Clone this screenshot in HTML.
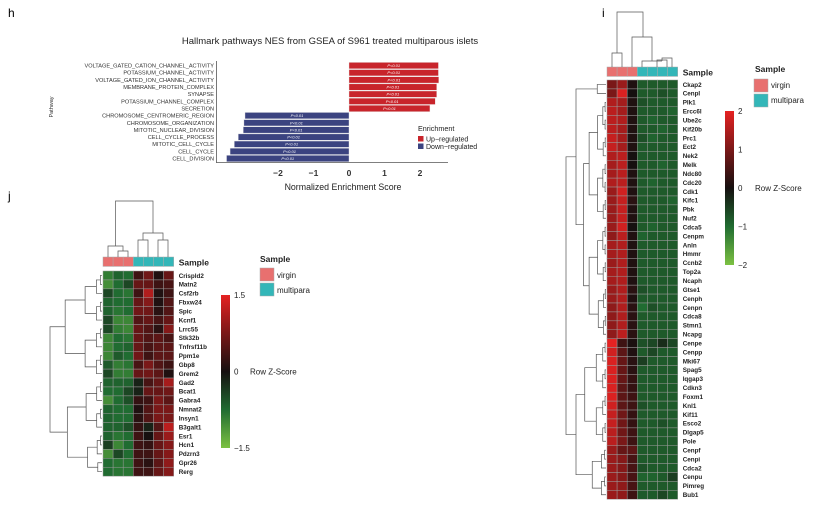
<!DOCTYPE html>
<html><head><meta charset="utf-8"><style>
body{margin:0;background:#fff;}
svg{display:block;font-family:"Liberation Sans",Arial,sans-serif;}
</style></head><body>
<svg id="fig" width="831" height="513" viewBox="0 0 831 513" xmlns="http://www.w3.org/2000/svg">
<text x="8" y="17" font-size="12">h</text>
<text x="8" y="200" font-size="12">j</text>
<text x="602" y="17" font-size="12">i</text>
<g id="h"></g>
<g id="j"></g>
<g id="i"></g>
</svg>
<script>
const NS="http://www.w3.org/2000/svg";
// ---- panel h data ----
const pathways=["VOLTAGE_GATED_CATION_CHANNEL_ACTIVITY","POTASSIUM_CHANNEL_ACTIVITY","VOLTAGE_GATED_ION_CHANNEL_ACTIVITY","MEMBRANE_PROTEIN_COMPLEX","SYNAPSE","POTASSIUM_CHANNEL_COMPLEX","SECRETION","CHROMOSOME_CENTROMERIC_REGION","CHROMOSOME_ORGANIZATION","MITOTIC_NUCLEAR_DIVISION","CELL_CYCLE_PROCESS","MITOTIC_CELL_CYCLE","CELL_CYCLE","CELL_DIVISION"];
const nesValues=[2.52,2.52,2.53,2.47,2.47,2.43,2.28,-2.93,-2.96,-2.98,-3.12,-3.23,-3.35,-3.45];
const nesTicks=[-2,-1,0,1,2];
// ---- panel j data ----
const genesJ=["Crispld2","Matn2","Csf2rb","Fbxw24","Spic","Kcnf1","Lrrc55","Stk32b","Tnfrsf11b","Ppm1e","Gbp8","Grem2","Gad2","Bcat1","Gabra4","Nmnat2","Insyn1","B3galt1","Esr1","Hcn1","Pdzrn3","Gpr26","Rerg"];
const samplesJ=["virgin","virgin","virgin","multipara","multipara","multipara","multipara"];
const zJ=[
[-1.2,-0.9,-1.0,0.4,0.9,0.1,0.8],[-1.4,-1.0,-0.6,0.8,0.8,0.4,0.5],[-0.6,-1.0,-1.1,0.4,1.5,0.1,0.4],
[-0.9,-1.0,-1.0,0.8,1.1,0.1,0.6],[-0.9,-1.1,-1.0,0.9,0.9,0.2,0.6],[-0.6,-1.3,-1.3,0.6,0.8,0.5,0.8],
[-0.6,-1.2,-1.3,0.8,0.6,0.2,1.1],[-1.3,-1.0,-1.1,0.8,0.6,0.7,0.5],[-1.3,-1.0,-0.9,0.8,0.5,0.7,0.7],
[-1.3,-0.8,-1.0,0.9,0.4,0.7,0.7],[-0.8,-1.2,-1.1,0.5,1.0,0.6,0.4],[-0.6,-1.2,-1.2,0.8,0.9,0.7,0.1],
[-0.9,-0.9,-0.9,-0.2,0.5,0.8,1.4],[-1.0,-1.0,-0.6,-0.2,0.8,0.8,0.9],[-1.4,-1.0,-0.7,0.3,0.4,1.0,0.7],
[-0.9,-1.0,-1.0,0.1,0.6,1.0,1.0],[-0.9,-1.0,-1.0,0.2,0.6,1.0,1.0],[-0.9,-0.9,-0.7,0.3,-0.2,0.6,1.6],
[-0.9,-1.1,-1.0,0.4,0.0,0.8,1.3],[-0.5,-1.3,-1.0,0.4,0.3,0.8,1.1],[-1.4,-0.6,-1.0,0.4,0.4,0.8,1.1],
[-1.0,-1.1,-1.1,0.4,0.2,0.7,1.2],[-1.0,-1.1,-1.1,0.4,0.4,0.8,1.1]];
const scaleTicksJ=[1.5,0,-1.5];
// ---- panel i data ----
const genesI=["Ckap2","Cenpl","Plk1","Ercc6l","Ube2c","Kif20b","Prc1","Ect2","Nek2","Melk","Ndc80","Cdc20","Cdk1","Kifc1","Pbk","Nuf2","Cdca5","Cenpm","Anln","Hmmr","Ccnb2","Top2a","Ncaph","Gtse1","Cenph","Cenpn","Cdca8","Stmn1","Ncapg","Cenpe","Cenpp","Mki67","Spag5","Iqgap3","Cdkn3","Foxm1","Knl1","Kif11","Esco2","Dlgap5","Pole","Cenpf","Cenpi","Cdca2","Cenpu","Pimreg","Bub1"];
const samplesI=["virgin","virgin","virgin","multipara","multipara","multipara","multipara"];
const zI=[
[1.0,1.3,0.1,-0.8,-0.8,-0.8,-0.8],[1.0,1.9,0.0,-0.8,-0.8,-0.7,-0.8],[1.5,1.4,0.1,-0.7,-0.8,-0.8,-0.8],
[1.6,1.4,0.1,-0.8,-0.8,-0.8,-0.9],[1.6,1.5,0.1,-0.8,-0.9,-0.8,-0.8],[1.6,1.4,0.1,-0.8,-0.8,-0.9,-0.8],
[1.7,1.4,0.1,-0.7,-0.9,-0.8,-0.8],[1.7,1.4,0.1,-0.8,-0.8,-0.8,-0.8],[1.5,1.6,0.0,-0.8,-0.8,-0.8,-0.8],
[1.4,1.6,0.0,-0.8,-0.8,-0.9,-0.8],[1.4,1.6,0.1,-0.8,-0.8,-0.8,-0.8],[1.5,1.6,0.1,-0.8,-0.9,-0.8,-0.8],
[1.3,1.8,0.1,-0.8,-0.8,-0.8,-0.8],[1.3,1.7,0.2,-0.8,-0.8,-0.8,-0.9],[1.3,1.7,0.1,-0.8,-0.8,-0.8,-0.8],
[1.3,1.7,0.1,-0.8,-0.8,-0.8,-0.8],[1.3,1.8,0.0,-0.8,-0.9,-0.8,-0.8],[1.2,1.6,0.1,-0.9,-0.8,-0.8,-0.8],
[1.4,1.5,0.1,-0.8,-0.8,-0.8,-0.8],[1.4,1.5,0.1,-0.8,-0.8,-0.8,-0.8],[1.3,1.5,0.1,-0.8,-0.8,-0.8,-0.8],
[1.4,1.5,0.1,-0.8,-0.8,-0.8,-0.8],[1.4,1.5,0.1,-0.8,-0.8,-0.8,-0.8],[1.3,1.5,0.2,-0.7,-0.8,-0.8,-0.8],
[1.3,1.5,0.1,-0.8,-0.8,-0.8,-0.8],[1.2,1.5,0.2,-1.0,-0.7,-0.8,-0.8],[1.2,1.5,0.2,-0.8,-0.8,-0.8,-0.8],
[1.2,1.5,0.2,-0.8,-0.8,-0.8,-0.8],[1.2,1.6,0.2,-0.8,-0.8,-0.8,-0.8],
[2.0,0.4,0.05,-0.7,-0.6,-0.3,-0.6],[1.8,0.7,0.1,-0.8,-0.6,-0.8,-0.8],[1.9,0.8,0.2,-0.5,-0.8,-0.8,-0.8],
[1.9,0.8,0.2,-0.8,-0.8,-0.8,-0.8],[1.9,0.8,0.3,-0.8,-0.8,-0.8,-0.8],[1.9,0.7,0.3,-0.8,-0.8,-0.8,-0.8],
[1.9,0.7,0.4,-0.8,-0.8,-0.8,-0.8],[1.8,0.7,0.4,-0.7,-0.8,-0.8,-0.8],[1.7,0.9,0.3,-0.8,-0.8,-0.8,-0.8],
[1.7,0.9,0.3,-0.8,-0.8,-0.7,-0.8],[1.6,0.9,0.4,-0.8,-0.8,-0.8,-0.8],[1.6,1.0,0.4,-0.8,-0.8,-0.8,-0.8],
[1.3,0.8,0.7,-0.8,-0.8,-0.8,-0.8],[1.3,1.1,0.5,-0.8,-0.8,-0.8,-0.8],[1.3,1.1,0.5,-0.7,-0.8,-0.8,-0.8],
[1.3,1.1,0.5,-0.9,-0.9,-0.8,-0.5],[1.3,1.2,0.5,-0.8,-0.8,-0.8,-0.8],[1.3,1.2,0.4,-0.8,-0.8,-0.6,-0.8]];
const scaleTicksI=[2,1,0,-1,-2];

function el(tag,attrs,parent,txt){const e=document.createElementNS(NS,tag);for(const k in attrs)e.setAttribute(k,attrs[k]);if(txt!==undefined)e.textContent=txt;parent.appendChild(e);return e;}
function hex(h){return [1,3,5].map(i=>parseInt(h.substr(i,2),16));}
const stops=["#7cc142","#206c31","#161010","#7a1818","#e52222"].map(hex);
function colorOf(v,max){let t=(v/max+1)*2;t=Math.max(0,Math.min(4,t));const i=Math.min(3,Math.floor(t)),f=t-i;const a=stops[i],b=stops[i+1];return "rgb("+a.map((c,k)=>Math.round(c+(b[k]-c)*f)).join(",")+")";}
const sampleCol={virgin:"#e8706f",multipara:"#33b6b8"};

function colorbar(g,x,y,h,max,ticks,titleX,id){
 const gradId="grad"+id;
 const defs=el("defs",{},g);
 const lg=el("linearGradient",{id:gradId,x1:"0",y1:"0",x2:"0",y2:"1"},defs);
 [max,max/2,0,-max/2,-max].forEach((v,k)=>el("stop",{offset:(k*25)+"%","stop-color":colorOf(v,max)},lg));
 el("rect",{x:x,y:y,width:9,height:h,fill:`url(#${gradId})`,},g);
 ticks.forEach(t=>{
  const ty=y+(max-t)/(2*max)*h;
  const k=el("text",{x:x+13,y:ty+3,"font-size":"8",fill:"#222"},g,t<0?"\u2212"+(-t):String(t));
  
  
 });
 el("text",{x:titleX,y:y+h/2+3,"font-size":"8",fill:"#222",},g,"Row Z-Score");
}

// ---------- panel h ----------
(function(){
const g=document.getElementById("h");
const x0=349,unit=35.5,yTop=62,bh=7.15;
const xs=v=>x0+v*unit, ys=i=>yTop+i*bh;
el("text",{x:330,y:44,"font-size":"9.5","text-anchor":"middle",fill:"#222",},g,"Hallmark pathways NES from GSEA of S961 treated multiparous islets");
pathways.forEach((p,i)=>{
 const v=nesValues[i];
 const r=el("rect",{x:Math.min(xs(0),xs(v)),y:ys(i)+0.4,width:Math.abs(xs(v)-xs(0)),height:bh-0.8,fill:v>0?"#c8242b":"#3b4380",stroke:"#e8e8e8","stroke-width":"0.4"},g);
 
 
 const t=el("text",{x:(xs(0)+xs(v))/2,y:ys(i)+bh/2+1.5,"font-size":"4","text-anchor":"middle",fill:"#fff","font-style":"italic"},g,"P<0.01");
 
 
 const l=el("text",{x:214,y:ys(i)+bh/2+2,"font-size":"5.6","text-anchor":"end",fill:"#333"},g,p);
 
 
});
el("line",{x1:216.5,y1:61,x2:216.5,y2:163,stroke:"#555","stroke-width":"0.8",},g);
el("line",{x1:216.5,y1:162.5,x2:448,y2:162.5,stroke:"#555","stroke-width":"0.8",},g);
nesTicks.forEach(t=>{
 const k=el("text",{x:xs(t),y:176,"font-size":"8.5","text-anchor":"middle",fill:"#333","font-weight":"bold"},g,t<0?"\u2212"+(-t):String(t));
 
 
});
el("text",{x:343,y:190,"font-size":"8.8","text-anchor":"middle",fill:"#222",},g,"Normalized Enrichment Score");
el("text",{x:0,y:0,"font-size":"5.5","text-anchor":"middle",fill:"#333",transform:"translate(53,107) rotate(-90)",},g,"Pathway");
el("text",{x:418,y:131,"font-size":"7.2",fill:"#222",},g,"Enrichment");
el("rect",{x:418,y:136,width:5.5,height:5.5,fill:"#c8242b",},g);
el("text",{x:426,y:141.5,"font-size":"7",fill:"#222",},g,"Up\u2212regulated");
el("rect",{x:418,y:143.5,width:5.5,height:5.5,fill:"#3b4380",},g);
el("text",{x:426,y:149,"font-size":"7",fill:"#222",},g,"Down\u2212regulated");
})();

// ---------- heatmap helper ----------
function heatmap(g,cfg){
 const {x0,y0,cw,rh,genes,z,samples,max,splits,rootX,colTree,barTop}=cfg;
 const xc=c=>x0+c*cw, yr=r=>y0+r*rh;
 samples.forEach((s,c)=>{
  const r=el("rect",{x:xc(c),y:barTop,width:cw,height:rh+0.5,fill:sampleCol[s],stroke:"#aaa","stroke-width":"0.5"},g);
  
  
 });
 el("text",{x:xc(7)+5,y:barTop+rh-0.5,"font-size":"8.5","font-weight":"bold",fill:"#222",},g,"Sample");
 z.forEach((row,r)=>{
  row.forEach((v,c)=>{
   const cell=el("rect",{x:xc(c),y:yr(r),width:cw,height:rh,fill:colorOf(v,max),stroke:"#9a9a9a","stroke-width":"0.5"},g);
   
   
  });
  const t=el("text",{x:xc(7)+5,y:yr(r)+rh/2+2.3,"font-size":"6.3","font-weight":"bold",fill:"#222"},g,genes[r]);
  
  
 });
 const leafX=x0-1;
 function build(lo,hi,xj){
  if(lo>=hi)return {y:yr(lo)+rh/2,x:leafX};
  const key=lo+"-"+hi;
  let m=splits[key]!==undefined?splits[key]:Math.floor((lo+hi)/2);
  if(m<lo||m>=hi)m=Math.floor((lo+hi)/2);
  const span=leafX-xj;
  const nx=a=>a===0?leafX:xj+span*(0.25+0.5*(1-Math.min(1,a/12)));
  const A=build(lo,m,nx(m-lo)), B=build(m+1,hi,nx(hi-m-1));
  el("path",{d:`M${A.x},${A.y}H${xj}V${B.y}H${B.x}`,fill:"none",stroke:"#555","stroke-width":"0.7",},g);
  return {y:(A.y+B.y)/2,x:xj};
 }
 build(0,genes.length-1,rootX);
 colTree.forEach(s=>el("path",{d:s,fill:"none",stroke:"#555","stroke-width":"0.7",},g));
}

// ---------- panel j ----------
(function(){
 const g=document.getElementById("j");
 heatmap(g,{x0:103,y0:271,cw:10.1,rh:8.92,genes:genesJ,z:zJ,samples:samplesJ,max:2,splits:{"0-22":11},rootX:50,barTop:257,
  colTree:["M118,257V251H128V257","M108,257V246H123V251","M138,257V240H148V257","M158,257V240H168V257","M143,240V233H163V240","M115.5,246V201H153V233"]});
 el("text",{x:260,y:262,"font-size":"8.5","font-weight":"bold",fill:"#222",},g,"Sample");
 el("rect",{x:260,y:268,width:14,height:13,fill:sampleCol.virgin,stroke:"#aaa","stroke-width":"0.5",},g);
 el("text",{x:277,y:278,"font-size":"8",fill:"#222",},g,"virgin");
 el("rect",{x:260,y:283,width:14,height:13,fill:sampleCol.multipara,stroke:"#aaa","stroke-width":"0.5",},g);
 el("text",{x:277,y:293,"font-size":"8",fill:"#222",},g,"multipara");
 colorbar(g,221,295,153,1.5,scaleTicksJ,250,"j");
})();

// ---------- panel i ----------
(function(){
 const g=document.getElementById("i");
 heatmap(g,{x0:607,y0:80,cw:10.1,rh:8.92,genes:genesI,z:zI,samples:samplesI,max:2,splits:{"0-46":28,"0-28":1,"29-46":40},rootX:566,barTop:67,
  colTree:["M612,67V53H622V67","M617,53V12H643V37","M632,67V37H652V61","M642,67V61H662","M657,67V60H667V67","M662,60V61","M672,67V58H662V60"]});
 el("text",{x:755,y:72,"font-size":"8.5","font-weight":"bold",fill:"#222",},g,"Sample");
 el("rect",{x:754,y:79,width:14,height:13,fill:sampleCol.virgin,stroke:"#aaa","stroke-width":"0.5",},g);
 el("text",{x:771,y:88,"font-size":"8",fill:"#222",},g,"virgin");
 el("rect",{x:754,y:94,width:14,height:13,fill:sampleCol.multipara,stroke:"#aaa","stroke-width":"0.5",},g);
 el("text",{x:771,y:103,"font-size":"8",fill:"#222",},g,"multipara");
 colorbar(g,725,111,154,2,scaleTicksI,755,"i");
})();
</script>
</body></html>
